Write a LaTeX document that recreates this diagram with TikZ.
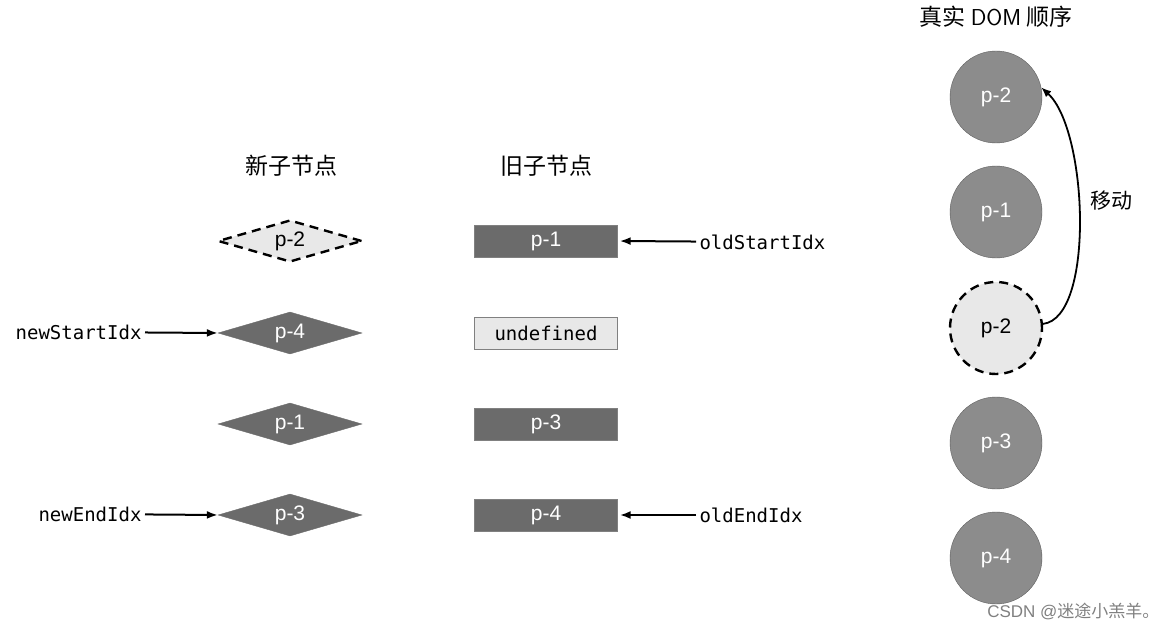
\documentclass[tikz,border=0pt]{standalone}
\usepackage{fontspec}
\setmainfont{Liberation Sans}
\setmonofont{DejaVu Sans Mono}
\newfontfamily\cjk{Noto Sans CJK SC}
\usetikzlibrary{shapes.geometric,arrows.meta}

\definecolor{vnodedark}{HTML}{6B6B6B}
\definecolor{vnodelight}{HTML}{E8E8E8}
\definecolor{domfill}{HTML}{8C8C8C}
\definecolor{domline}{HTML}{5E5E5E}

\tikzset{
  newvnode/.style={diamond,aspect=3.4,draw=vnodedark,fill=vnodedark,text=white,inner sep=0pt,
    minimum width=144pt,minimum height=42pt,font=\fontsize{21}{24}\selectfont},
  oldvnode/.style={rectangle,draw=gray,fill=vnodedark,text=white,inner sep=0pt,
    minimum width=143pt,minimum height=32pt,font=\fontsize{21}{24}\selectfont},
  domnode/.style={circle,draw=domline,fill=domfill,text=white,inner sep=0pt,
    minimum size=92pt,font=\fontsize{21}{24}\selectfont},
  title/.style={font=\cjk\fontsize{23}{26}\selectfont},
  idx/.style={font=\ttfamily\fontsize{19}{22}\selectfont},
  ptr/.style={line width=2pt,-{Latex[length=11pt,width=8pt]}},
  moved/.style={draw=black,fill=vnodelight,text=black,line width=2.4pt,dash pattern=on 9pt off 6pt}
}

\begin{document}
\begin{tikzpicture}[x=1pt,y=-1pt]
    \useasboundingbox (0,0) rectangle (1174,631);

    % --------------------------------------------------------- %
    % ------------- titles
    % --------------------------------------------------------- %
    \node[title] (newtitle) at (291,166) {新子节点};
    \node[title] (oldtitle) at (546,166) {旧子节点};
    \node[title] (domtitle) at (996,17) {真实 \textsf{DOM} 顺序};

    % --------------------------------------------------------- %
    % ------------- new children
    % --------------------------------------------------------- %
    \node[newvnode,moved] (newa) at (290,241) {p-2};
    \node[newvnode] (newb) at (290,333) {p-4};
    \node[newvnode] (newc) at (290,424) {p-1};
    \node[newvnode] (newd) at (290,515) {p-3};

    % --------------------------------------------------------- %
    % ------------- old children
    % --------------------------------------------------------- %
    \node[oldvnode] (olda) at (546,241) {p-1};
    \node[oldvnode,fill=vnodelight,text=black,font=\ttfamily\fontsize{19}{22}\selectfont] (oldb) at (546,333) {undefined};
    \node[oldvnode] (oldc) at (546,424) {p-3};
    \node[oldvnode] (oldd) at (546,515) {p-4};

    % --------------------------------------------------------- %
    % ------------- indexes
    % --------------------------------------------------------- %
    \node[idx,anchor=east] (newstart) at (145,332) {newStartIdx};
    \draw[ptr] (newstart) to (newb.west);

    \node[idx,anchor=east] (newend) at (145,514) {newEndIdx};
    \draw[ptr] (newend) to (newd.west);

    \node[idx,anchor=west] (oldstart) at (696,242) {oldStartIdx};
    \draw[ptr] (oldstart) to ([xshift=2pt]olda.east);

    \node[idx,anchor=west] (oldend) at (696,515) {oldEndIdx};
    \draw[ptr] (oldend) to ([xshift=2pt]oldd.east);

    % --------------------------------------------------------- %
    % ------------- real DOM
    % --------------------------------------------------------- %
    \node[domnode] (doma) at (996,97) {p-2};
    \node[domnode] (domb) at (996,212) {p-1};
    \node[domnode,moved] (domc) at (996,328) {p-2};
    \node[domnode] (domd) at (996,443) {p-3};
    \node[domnode] (dome) at (996,558) {p-4};

    \draw[line width=1.8pt,-{Latex[length=10pt,width=8pt]}] (domc.5) .. controls (1095,318) and (1088,130) .. (doma.12);
    \node[font=\cjk\fontsize{21}{24}\selectfont] (move) at (1111,201) {移动};

    \node[text=gray,font=\fontsize{17}{19}\selectfont,anchor=east] (mark) at (1163,611) {CSDN @{\cjk 迷途小羔羊。}};

\end{tikzpicture}
\end{document}
